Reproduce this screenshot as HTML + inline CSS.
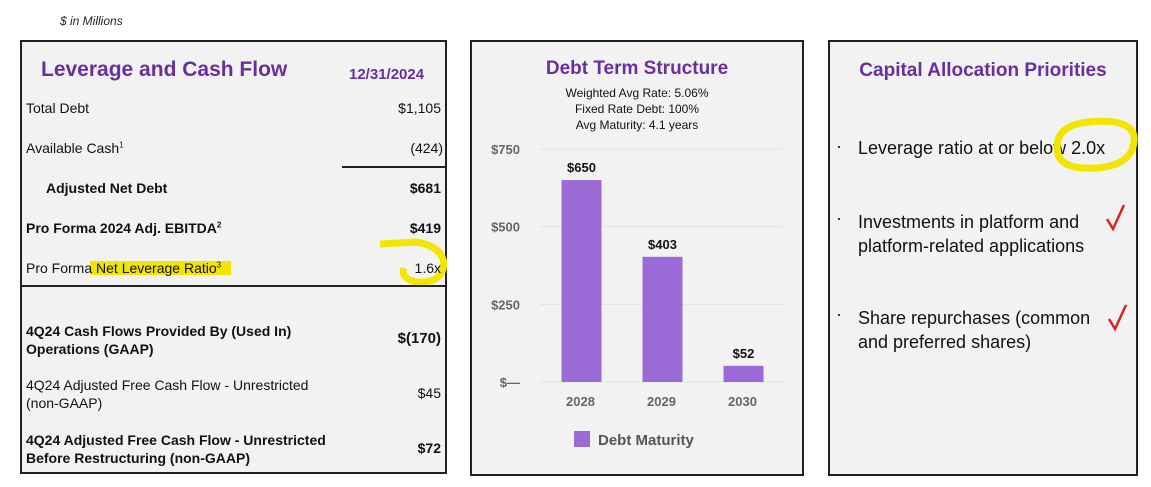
<!DOCTYPE html>
<html><head><meta charset="utf-8"><style>
body{margin:0;width:1151px;height:487px;background:#fff;font-family:"Liberation Sans",sans-serif;position:relative;overflow:hidden}
.abs{position:absolute}
.panel{position:absolute;background:#f2f2f2;border:2px solid #222;box-sizing:border-box}
.t{position:absolute;font-size:14px;color:#111;white-space:nowrap}
.b{font-weight:bold}
.r{text-align:right}
.purple{color:#6a2f9e;font-weight:bold}
</style></head><body>
<div class="abs" style="left:60px;top:14px;font-size:12px;font-style:italic;color:#222">$ in Millions</div>

<div class="panel" style="left:20px;top:40px;width:427px;height:434px">
 <div class="t purple" style="left:19px;top:16px;font-size:21px">Leverage and Cash Flow</div>
 <div class="t purple" style="left:327px;top:24px;font-size:15px">12/31/2024</div>
 <div class="t" style="left:4px;top:58px">Total Debt</div>
 <div class="t" style="right:4px;top:58px">$1,105</div>
 <div class="t" style="left:4px;top:98px">Available Cash<sup style="font-size:8px">1</sup></div>
 <div class="t" style="right:2px;top:98px">(424)</div>
 <div class="abs" style="left:320px;top:124px;width:105px;height:2px;background:#222"></div>
 <div class="t b" style="left:24px;top:138px">Adjusted Net Debt</div>
 <div class="t b" style="right:4px;top:138px">$681</div>
 <div class="t b" style="left:4px;top:178px">Pro Forma 2024 Adj. EBITDA<sup style="font-size:8px">2</sup></div>
 <div class="t b" style="right:4px;top:178px">$419</div>
 <div class="abs" style="left:68px;top:219px;width:141px;height:14px;background:#f2e600"></div>
 <div class="t" style="left:4px;top:218px">Pro Forma Net Leverage Ratio<sup style="font-size:8px">3</sup></div>
 <svg class="abs" style="left:354px;top:196px" width="72" height="50"><path d="M4 6 L40 4 Q66 8 68 26 Q66 46 40 44 Q24 40 28 30" stroke="#f2e600" stroke-width="7" fill="none"/></svg>
 <div class="t" style="right:4px;top:218px">1.6x</div>
 <div class="abs" style="left:0;top:243px;width:425px;height:2px;background:#222"></div>
 <div class="t b" style="left:4px;top:280px;line-height:18px">4Q24 Cash Flows Provided By (Used In)<br>Operations (GAAP)</div>
 <div class="t b" style="right:4px;top:288px;font-size:15px">$(170)</div>
 <div class="t" style="left:4px;top:334px;line-height:18px">4Q24 Adjusted Free Cash Flow - Unrestricted<br>(non-GAAP)</div>
 <div class="t" style="right:4px;top:343px">$45</div>
 <div class="t b" style="left:4px;top:389px;line-height:18px">4Q24 Adjusted Free Cash Flow - Unrestricted<br>Before Restructuring (non-GAAP)</div>
 <div class="t b" style="right:4px;top:398px">$72</div>
</div>

<div class="panel" style="left:470px;top:40px;width:334px;height:436px">
 <div class="t purple" style="left:0;width:330px;text-align:center;top:16px;font-size:19px">Debt Term Structure</div>
 <div class="t" style="left:0;width:330px;text-align:center;top:43px;font-size:12px;line-height:16px;white-space:normal">Weighted Avg Rate: 5.06%<br>Fixed Rate Debt: 100%<br>Avg Maturity: 4.1 years</div>
</div>
<svg id="chart" class="abs" style="left:0;top:0" width="1151" height="487"></svg>

<div class="panel" style="left:828px;top:40px;width:310px;height:436px">
 <div class="t purple" style="left:0;width:306px;text-align:center;top:18px;font-size:19px">Capital Allocation Priorities</div>
 <div class="t" style="left:6px;top:94px;font-size:18px">·</div>
 <div class="t" style="left:28px;top:96px;font-size:18px">Leverage ratio at or below 2.0x</div>
 <svg class="abs" style="left:218px;top:72px" width="94" height="62"><path d="M10 40 Q4 12 40 8 Q82 4 86 22 Q88 50 50 54 Q14 56 10 40" stroke="#f2e600" stroke-width="7" fill="none"/></svg>
 <div class="t" style="left:6px;top:166px;font-size:18px">·</div>
 <div class="t" style="left:28px;top:168px;font-size:18px;line-height:24px">Investments in platform and<br>platform-related applications</div>
 <div class="t" style="left:6px;top:262px;font-size:18px">·</div>
 <div class="t" style="left:28px;top:264px;font-size:18px;line-height:24px">Share repurchases (common<br>and preferred shares)</div>
 <svg class="abs" style="left:274px;top:160px" width="24" height="30"><path d="M3 17 L9 27 L20 3" stroke="#e02020" stroke-width="2.5" fill="none"/></svg>
 <svg class="abs" style="left:276px;top:260px" width="24" height="30"><path d="M3 17 L9 27 L20 3" stroke="#e02020" stroke-width="2.5" fill="none"/></svg>
</div>

<script>
const categories=["2028","2029","2030"];
const values=[650,403,52];
const valueLabels=["$650","$403","$52"];
const tickValues=[0,250,500,750];
const tickLabels=["$—","$250","$500","$750"];
const svg=document.getElementById('chart');
const NS="http://www.w3.org/2000/svg";
const x0=540,x1=783,yb=382,yt=149,ymax=750;
const y=v=>yb-(v/ymax)*(yb-yt);
const band=(x1-x0)/categories.length;
const xc=i=>x0+band*(i+0.5);
function mk(t,a){const e=document.createElementNS(NS,t);for(const k in a)e.setAttribute(k,a[k]);svg.appendChild(e);return e;}
tickValues.forEach((v,i)=>{
 const l=mk('line',{x1:x0,x2:x1,y1:y(v),y2:y(v),stroke:'#e2e2e2','stroke-width':1});
 
 
 const t=mk('text',{x:520,y:y(v)+5,'text-anchor':'end','font-size':13,'font-weight':'bold',fill:'#666','font-family':'Liberation Sans'});
 t.textContent=tickLabels[i];
 
 
});
categories.forEach((c,i)=>{
 const bw=40;
 const r=mk('rect',{x:xc(i)-bw/2+1,y:y(values[i]),width:bw,height:yb-y(values[i]),fill:'#9a6ad6'});
 
 
 const vl=mk('text',{x:xc(i)+1,y:y(values[i])-8,'text-anchor':'middle','font-size':13,'font-weight':'bold',fill:'#111','font-family':'Liberation Sans'});
 vl.textContent=valueLabels[i];
 
 
 const xl=mk('text',{x:xc(i),y:406,'text-anchor':'middle','font-size':13,'font-weight':'bold',fill:'#666','font-family':'Liberation Sans'});
 xl.textContent=c;
 
 
});
const ls=mk('rect',{x:574,y:431,width:16,height:16,fill:'#9a6ad6'});


const lt=mk('text',{x:598,y:445,'font-size':15,'font-weight':'bold',fill:'#555','font-family':'Liberation Sans'});
lt.textContent="Debt Maturity";


</script>
</body></html>
